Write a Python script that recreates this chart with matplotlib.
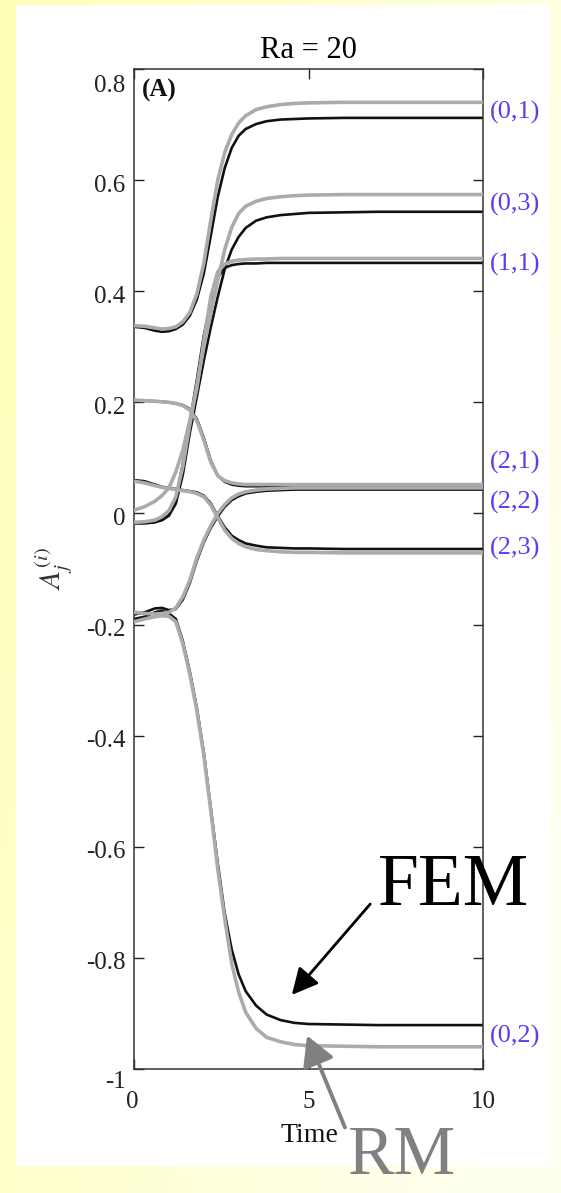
import numpy as np
import matplotlib
matplotlib.use("Agg")
import matplotlib.pyplot as plt
import matplotlib.transforms as mtransforms
from matplotlib.patches import Rectangle, FancyArrowPatch

plt.rcParams['font.family'] = ['Liberation Serif', 'DejaVu Serif']
plt.rcParams['mathtext.fontset'] = 'stix'
plt.rcParams['axes.unicode_minus'] = False

# ---------------- data ----------------
time = [0, 0.3, 0.6, 0.8, 1.0, 1.2, 1.4, 1.6, 1.8, 2.0, 2.2, 2.4, 2.6, 2.8, 3.0,
        3.2, 3.5, 3.8, 4.2, 4.6, 5.0, 6.0, 7.0, 8.5, 10.0]

fem_01 = [0.336, 0.334, 0.329, 0.327, 0.328, 0.332, 0.340, 0.356, 0.385, 0.432, 0.500, 0.570, 0.622,
          0.658, 0.680, 0.692, 0.701, 0.706, 0.709, 0.710, 0.711, 0.712, 0.712, 0.712, 0.712]
rm_01 = [0.338, 0.337, 0.334, 0.332, 0.333, 0.336, 0.345, 0.362, 0.395, 0.450, 0.528, 0.600, 0.650,
         0.682, 0.703, 0.716, 0.727, 0.732, 0.736, 0.738, 0.739, 0.740, 0.740, 0.740, 0.740]

fem_03 = [-0.018, -0.018, -0.016, -0.012, -0.004, 0.018, 0.070, 0.145, 0.210, 0.275, 0.335, 0.390, 0.440,
          0.475, 0.498, 0.514, 0.527, 0.533, 0.537, 0.539, 0.541, 0.542, 0.543, 0.543, 0.543]
rm_03 = [-0.016, -0.015, -0.012, -0.006, 0.005, 0.030, 0.085, 0.160, 0.230, 0.300, 0.360, 0.420, 0.475,
         0.515, 0.540, 0.553, 0.562, 0.567, 0.570, 0.572, 0.573, 0.574, 0.574, 0.574, 0.574]

fem_11 = [-0.016, -0.016, -0.015, -0.012, -0.003, 0.028, 0.090, 0.165, 0.240, 0.320, 0.380, 0.425, 0.442,
          0.447, 0.449, 0.450, 0.450, 0.451, 0.451, 0.451, 0.451, 0.451, 0.451, 0.451, 0.451]
rm_11 = [0.006, 0.012, 0.022, 0.032, 0.046, 0.075, 0.114, 0.168, 0.225, 0.310, 0.390, 0.435, 0.449,
         0.454, 0.456, 0.457, 0.458, 0.458, 0.459, 0.459, 0.459, 0.459, 0.459, 0.459, 0.459]

fem_21 = [0.204, 0.203, 0.202, 0.201, 0.200, 0.198, 0.195, 0.188, 0.170, 0.136, 0.095, 0.068, 0.057,
          0.052, 0.050, 0.049, 0.049, 0.049, 0.049, 0.049, 0.049, 0.049, 0.049, 0.049, 0.049]
rm_21 = [0.204, 0.203, 0.202, 0.201, 0.200, 0.198, 0.194, 0.186, 0.167, 0.132, 0.092, 0.068, 0.059,
         0.055, 0.053, 0.052, 0.052, 0.052, 0.052, 0.052, 0.052, 0.052, 0.052, 0.052, 0.052]

fem_22 = [-0.182, -0.178, -0.171, -0.170, -0.174, -0.172, -0.155, -0.125, -0.085, -0.052, -0.026, -0.005, 0.012,
          0.024, 0.031, 0.036, 0.039, 0.041, 0.042, 0.043, 0.043, 0.043, 0.043, 0.043, 0.043]
rm_22 = [-0.178, -0.180, -0.181, -0.180, -0.178, -0.170, -0.150, -0.120, -0.080, -0.048, -0.022, 0.000, 0.016,
         0.028, 0.035, 0.039, 0.042, 0.044, 0.045, 0.046, 0.046, 0.046, 0.046, 0.046, 0.046]

fem_23 = [0.060, 0.058, 0.052, 0.048, 0.046, 0.044, 0.042, 0.040, 0.038, 0.032, 0.018, -0.005, -0.025,
          -0.040, -0.048, -0.054, -0.058, -0.061, -0.062, -0.063, -0.063, -0.064, -0.064, -0.064, -0.064]
rm_23 = [0.058, 0.055, 0.050, 0.047, 0.045, 0.043, 0.041, 0.039, 0.036, 0.030, 0.015, -0.008, -0.030,
         -0.045, -0.054, -0.060, -0.065, -0.067, -0.069, -0.070, -0.070, -0.071, -0.071, -0.071, -0.071]

fem_02 = [-0.190, -0.186, -0.178, -0.175, -0.180, -0.190, -0.230, -0.285, -0.350, -0.430, -0.530, -0.630, -0.720,
          -0.785, -0.830, -0.860, -0.886, -0.902, -0.912, -0.917, -0.919, -0.920, -0.921, -0.921, -0.921]
rm_02 = [-0.195, -0.190, -0.186, -0.184, -0.185, -0.195, -0.235, -0.290, -0.355, -0.435, -0.535, -0.640, -0.730,
         -0.810, -0.862, -0.898, -0.927, -0.943, -0.951, -0.956, -0.958, -0.959, -0.960, -0.960, -0.960]

mode_labels = ['(0,1)', '(0,3)', '(1,1)', '(2,1)', '(2,2)', '(2,3)', '(0,2)']
label_y = [0.721, 0.556, 0.448, 0.092, 0.020, -0.063, -0.942]   # label positions

x_ticks = [0, 5, 10]
x_ticklabels = ['0', '5', '10']
y_ticks = [-1, -0.8, -0.6, -0.4, -0.2, 0, 0.2, 0.4, 0.6, 0.8]
y_ticklabels = ['-1', '-0.8', '-0.6', '-0.4', '-0.2', '0', '0.2', '0.4', '0.6', '0.8']

# ---------------- figure ----------------
W, H = 561, 1193
fig = plt.figure(figsize=(W / 100, H / 100), dpi=100)

def fx(px):
    return px / W

def fy(py):
    return 1 - py / H

# slide background (yellow gradient) + white panel
bg = fig.add_axes([0, 0, 1, 1], zorder=-10)
gx = np.linspace(0, 1, 200)[None, :]
gy = np.linspace(0, 1, 400)[:, None]
t = np.clip(0.75 * gx + 0.35 * gy, 0, 1)
img = np.zeros((400, 200, 3))
img[..., 0] = 1.0
img[..., 1] = 1.0
img[..., 2] = 0.72 + 0.22 * t
bg.imshow(img, aspect='auto', extent=[0, 1, 0, 1], origin='upper')
bg.add_patch(Rectangle((fx(16), fy(1166)), fx(550) - fx(16), fy(5) - fy(1166),
                       facecolor='white', edgecolor='none', transform=bg.transAxes))
bg.set_xlim(0, 1)
bg.set_ylim(0, 1)
bg.axis('off')

ax = fig.add_axes([fx(134), fy(1069), fx(483) - fx(134), fy(69) - fy(1069)])
ax.set_facecolor('white')

black = '#111111'
gray = '#ababab'
pairs = [(fem_01, rm_01), (fem_03, rm_03), (fem_11, rm_11), (fem_21, rm_21),
         (fem_22, rm_22), (fem_23, rm_23), (fem_02, rm_02)]
for fem, rm in pairs:
    ax.plot(time, fem, color=black, lw=1.9, solid_joinstyle='round', zorder=2)
for fem, rm in pairs:
    ax.plot(time, rm, color=gray, lw=2.6, solid_joinstyle='round', zorder=3)

ax.set_xlim(0, 10)
ax.set_ylim(-1, 0.8)
ax.set_xticks(x_ticks)
ax.set_xticklabels(x_ticklabels)
ax.set_yticks(y_ticks)
ax.set_yticklabels(y_ticklabels)
ax.tick_params(direction='in', length=7, width=1, top=True, right=True,
               labelsize=18, colors='#222222')
ax.tick_params(axis='x', pad=16)
ax.tick_params(axis='y', pad=6)
for s in ax.spines.values():
    s.set_linewidth(1.1)
    s.set_color('#333333')

# nudge tick labels like the original
for lab, val in zip(ax.get_yticklabels(), y_ticks):
    dy = -3
    if val == 0.8:
        dy = -14
    elif val == -1:
        dy = -10
    lab.set_transform(lab.get_transform() +
                      mtransforms.ScaledTranslation(0, dy / 100, fig.dpi_scale_trans))
for lab, val in zip(ax.get_xticklabels(), x_ticks):
    dx = -2 if val == 0 else 0
    lab.set_transform(lab.get_transform() +
                      mtransforms.ScaledTranslation(dx / 100, 0, fig.dpi_scale_trans))

ax.set_title('Ra = 20', fontsize=22, pad=8)
ax.text(0.504, -0.054, 'Time', transform=ax.transAxes, fontsize=20,
        ha='center', va='top', color='#111111')
ax.text(-0.229, 0.5, r'$A_j^{(i)}$', transform=ax.transAxes, fontsize=21,
        rotation=90, ha='center', va='center', color='#333333')
ax.text(0.022, 0.99, '(A)', transform=ax.transAxes, fontsize=18,
        fontweight='bold', ha='left', va='top', color='#111111')

blend = mtransforms.blended_transform_factory(ax.transAxes, ax.transData)
for lab, yv in zip(mode_labels, label_y):
    ax.text(1.02, yv, lab, transform=blend, fontsize=19, color='#5a3cf5',
            ha='left', va='center', clip_on=False)

# FEM / RM annotations
fig.text(fx(453), fy(905), 'FEM', fontsize=53, ha='center', va='baseline', color='black')
fig.text(fx(402), fy(1174), 'RM', fontsize=50, ha='center', va='baseline', color='#808080')
fig.add_artist(FancyArrowPatch(
    (fx(372), fy(902)), (fx(290), fy(997)), transform=fig.transFigure,
    arrowstyle='-|>,head_length=8,head_width=4', color='black', lw=2, mutation_scale=2))
fig.add_artist(FancyArrowPatch(
    (fx(346), fy(1130)), (fx(306), fy(1033)), transform=fig.transFigure,
    arrowstyle='-|>,head_length=9,head_width=5', color='#808080', lw=2.8, mutation_scale=2))

fig.savefig('out.png', dpi=100)
